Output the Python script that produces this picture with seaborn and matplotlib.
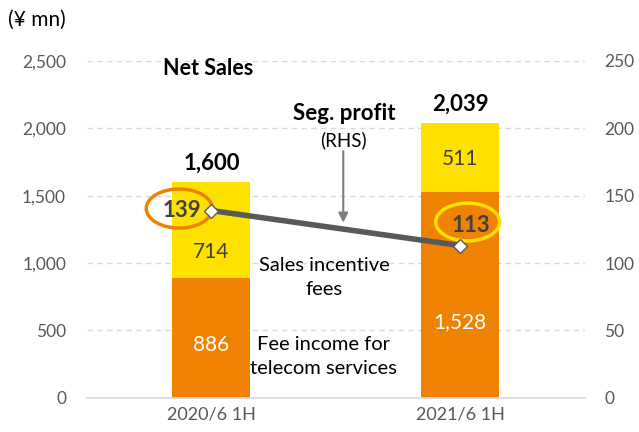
import numpy as np
import pandas as pd
import matplotlib.pyplot as plt
from matplotlib.patches import Ellipse
import seaborn as sns

# Données
periods = ["2020/6 1H", "2021/6 1H"]
fee_income = [886, 1528]
incentive_fees = [714, 511]
net_sales = [1600, 2039]
seg_profit = [139, 113]

ORANGE = "#EF8200"
YELLOW = "#FFE100"
GREY = "#595959"

sns.set_theme(style="white")
plt.rcParams['font.family'] = ['Lato', 'DejaVu Sans']

df = pd.DataFrame({"period": periods, "fee": fee_income,
                   "incentive": incentive_fees, "total": net_sales})

fig = plt.figure(figsize=(6.39, 4.32), dpi=100)
ax = fig.add_axes([0.136, 0.079, 0.779, 0.78])

# barres empilées
sns.barplot(data=df, x="period", y="total", color=YELLOW, width=0.313,
            saturation=1, linewidth=0, ax=ax)
sns.barplot(data=df, x="period", y="fee", color=ORANGE, width=0.313,
            saturation=1, linewidth=0, ax=ax)

ax.set_xlim(-0.5, 1.5)
ax.set_ylim(0, 2500)
ax.set_yticks(np.arange(0, 2501, 500))
ax.set_yticklabels([f"{v:,}" for v in range(0, 2501, 500)])
ax.yaxis.grid(True, linestyle=(0, (4, 3)), color="#D9D9D9", linewidth=1)
ax.set_axisbelow(True)
for s in ["top", "right", "left"]:
    ax.spines[s].set_visible(False)
ax.spines["bottom"].set_color("#D9D9D9")
ax.spines["bottom"].set_linewidth(1.2)
ax.tick_params(axis="y", length=0, pad=15, labelsize=12.5, labelcolor=GREY)
ax.tick_params(axis="x", length=0, pad=6, labelsize=13, labelcolor=GREY)
ax.set_xlabel("")
ax.set_ylabel("")

# valeurs dans les barres
fee_off = [-50, -200]
inc_off = [-160, -10]
for i in range(2):
    ax.text(i, fee_income[i] / 2 + fee_off[i], f"{fee_income[i]:,}",
            ha="center", va="center", color="white", fontsize=15)
    ax.text(i, fee_income[i] + incentive_fees[i] / 2 + inc_off[i],
            f"{incentive_fees[i]:,}", ha="center", va="center", color="#404040", fontsize=15)
    ax.text(i, net_sales[i] + 140, f"{net_sales[i]:,}", ha="center", va="center",
            color="black", fontsize=16, fontweight="bold")

# axe de droite : bénéfice
ax2 = ax.twinx()
sns.lineplot(x=[0, 1], y=seg_profit, ax=ax2, color=GREY, linewidth=4,
             marker="D", markersize=7.5, markerfacecolor="white",
             markeredgecolor=GREY, markeredgewidth=1)
ax2.set_ylim(0, 250)
ax2.set_yticks(np.arange(0, 251, 50))
ax2.tick_params(axis="y", length=0, pad=14, labelsize=12.5, labelcolor=GREY)
for s in ["top", "right", "left", "bottom"]:
    ax2.spines[s].set_visible(False)

ax2.text(-0.12, seg_profit[0], f"{seg_profit[0]}", ha="center", va="center",
         color="#404040", fontsize=16, fontweight="bold")
ax2.add_patch(Ellipse((-0.129, seg_profit[0] + 1.5), 0.265, 29, fill=False,
                      edgecolor=ORANGE, linewidth=2.5))
ax2.text(1.044, seg_profit[1] + 15, f"{seg_profit[1]}", ha="center", va="center",
         color="#404040", fontsize=16, fontweight="bold")
ax2.add_patch(Ellipse((1.03, seg_profit[1] + 17.5), 0.257, 28, fill=False,
                      edgecolor=YELLOW, linewidth=2.5))

# libellés
fig.text(0.012, 0.953, "(¥ mn)", fontsize=15, color="black", va="center")
ax.text(-0.012, 2440, "Net Sales", ha="center", va="center", fontsize=15.5,
        fontweight="bold", color="black")
ax.text(0.534, 2110, "Seg. profit", ha="center", va="center", fontsize=16,
        fontweight="bold", color="black")
ax.text(0.532, 1910, "(RHS)", ha="center", va="center", fontsize=13.5, color="black")
ax.annotate("", xy=(0.53, 1300), xytext=(0.53, 1830),
            arrowprops=dict(arrowstyle="-|>", color="#7F7F7F", lw=1.5,
                            mutation_scale=14, shrinkA=0, shrinkB=0))
ax.text(0.454, 894, "Sales incentive\nfees", ha="center", va="center",
        fontsize=14.5, color="black", linespacing=1.5)
ax.text(0.452, 304, "Fee income for\ntelecom services", ha="center", va="center",
        fontsize=14.5, color="black", linespacing=1.5)

fig.savefig("out.png", dpi=100)
